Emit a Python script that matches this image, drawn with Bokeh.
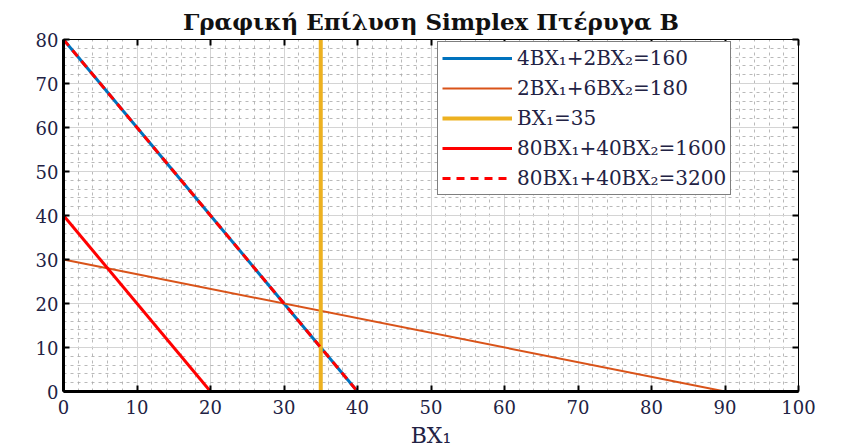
from bokeh.plotting import figure
from bokeh.models import Range1d, LinearAxis, Legend, LegendItem, FixedTicker
from bokeh.embed import file_html
from bokeh.resources import INLINE

# data
c1_x = [0, 40]; c1_y = [80, 0]        # 4BX1+2BX2=160
c2_x = [0, 90]; c2_y = [30, 0]        # 2BX1+6BX2=180
c3_x = [35, 35]; c3_y = [0, 80]       # BX1=35
z1_x = [0, 20]; z1_y = [40, 0]        # 80BX1+40BX2=1600
z2_x = [0, 40]; z2_y = [80, 0]        # 80BX1+40BX2=3200
labels = ["4BX₁+2BX₂=160", "2BX₁+6BX₂=180", "BX₁=35",
          "80BX₁+40BX₂=1600", "80BX₁+40BX₂=3200"]
x_ticks = [0, 10, 20, 30, 40, 50, 60, 70, 80, 90, 100]
y_ticks = [0, 10, 20, 30, 40, 50, 60, 70, 80]

FONT = "DejaVu Serif"

p = figure(frame_width=735, frame_height=352, output_backend="svg",
           toolbar_location=None, x_range=Range1d(0, 100), y_range=Range1d(0, 80),
           min_border_left=63, min_border_right=30, min_border_bottom=40, min_border_top=3,
           title="Γραφική Επίλυση Simplex Πτέρυγα Β")
p.title.align = "center"
p.title.text_font = FONT
p.title.text_font_size = "23px"
p.title.text_font_style = "bold"
p.title.text_color = "#111111"
p.title.offset = 0
p.outline_line_color = "black"
p.outline_line_width = 1
p.background_fill_color = "white"

r1 = p.line(c1_x, c1_y, line_color="#0072BD", line_width=3)
r2 = p.line(c2_x, c2_y, line_color="#D95319", line_width=2)
r3 = p.line(c3_x, c3_y, line_color="#EDB120", line_width=4)
r4 = p.line(z1_x, z1_y, line_color="#FF0000", line_width=3)
r5 = p.line(z2_x, z2_y, line_color="#FF0000", line_width=3, line_dash="8 6")

for ax in (p.xaxis[0], p.yaxis[0]):
    ax.axis_line_width = 3
    ax.axis_line_color = "black"
    ax.major_tick_in = 6
    ax.major_tick_out = 0
    ax.minor_tick_in = 0
    ax.minor_tick_out = 0
    ax.major_tick_line_width = 2
    ax.major_label_text_font = FONT
    ax.major_label_text_font_size = "18px"
    ax.major_label_text_color = "#222244"
p.xaxis[0].ticker = FixedTicker(ticks=x_ticks, minor_ticks=list(range(0, 101, 2)))
p.yaxis[0].ticker = FixedTicker(ticks=y_ticks, minor_ticks=list(range(0, 81, 2)))
p.xaxis[0].major_label_standoff = 8
p.xaxis[0].axis_label = "BX₁"
p.xaxis[0].axis_label_text_font = FONT
p.xaxis[0].axis_label_text_font_size = "22px"
p.xaxis[0].axis_label_text_font_style = "normal"
p.xaxis[0].axis_label_text_color = "#222244"
p.xaxis[0].axis_label_standoff = 6

for loc, tks in (("above", x_ticks), ("right", y_ticks)):
    a = LinearAxis(ticker=FixedTicker(ticks=tks))
    a.major_label_text_font_size = "0px"
    a.major_tick_in = 6
    a.major_tick_out = 0
    a.minor_tick_in = 0
    a.minor_tick_out = 0
    a.major_tick_line_width = 2
    a.axis_line_color = "black"
    p.add_layout(a, loc)

for g in (p.xgrid[0], p.ygrid[0]):
    g.grid_line_color = "#d4d4d4"
    g.grid_line_width = 1
    g.minor_grid_line_color = "#a8a8a8"
    g.minor_grid_line_dash = "3 4"
    g.minor_grid_line_alpha = 0.8

legend = Legend(items=[LegendItem(label=l, renderers=[r]) for l, r in
                       zip(labels, [r1, r2, r3, r4, r5])],
                location=(374, 196))
legend.label_text_font = FONT
legend.label_text_font_size = "20px"
legend.label_text_color = "#222244"
legend.glyph_width = 70
legend.glyph_height = 22
legend.label_height = 22
legend.spacing = 6
legend.padding = 4
legend.border_line_color = "black"
legend.border_line_width = 1
legend.background_fill_alpha = 1
p.add_layout(legend, "center")

open("out.html", "w").write(file_html(p, INLINE))
